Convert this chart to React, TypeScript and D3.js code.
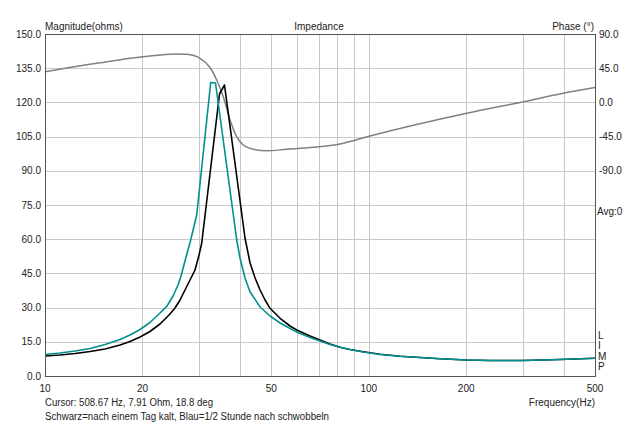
import React from "react";
import * as d3 from "d3";

// ---- data ----
const FREQ_TEAL = [10, 11.13, 12.38, 13.78, 15.33, 17.05, 18.31, 19.66, 21.1, 22.66, 23.82, 24.86, 25.76, 26.31, 27.17, 28.19, 29.42, 32.5, 33.63, 39.11, 40.03, 41.48, 43.0, 46.17, 49.57, 53.23, 59.93, 65.87, 70.72, 75.92, 81.52, 87.52, 96.23, 108.4, 125.0, 144.1, 166.1, 200.8, 237.0, 299.7, 389.9, 500];
const MAG_TEAL = [9.43, 10.09, 10.96, 12.06, 13.82, 16.01, 17.98, 20.39, 23.46, 27.63, 30.7, 35.09, 39.91, 43.86, 51.32, 59.65, 70.61, 128.73, 128.51, 59.65, 51.75, 42.98, 36.84, 30.26, 26.32, 23.25, 19.3, 16.89, 15.35, 13.82, 12.59, 11.62, 10.53, 9.43, 8.64, 8.11, 7.59, 7.02, 6.8, 6.8, 7.24, 7.81];

const FREQ_BLACK = [10, 11.13, 12.38, 13.78, 15.33, 17.05, 18.31, 19.66, 21.1, 22.66, 24.33, 25.21, 26.13, 27.07, 28.05, 29.07, 29.91, 30.49, 34.6, 35.85, 41.48, 43.0, 44.56, 46.17, 47.84, 49.57, 53.23, 57.15, 59.93, 65.87, 70.72, 75.92, 81.52, 87.52, 96.23, 108.4, 125.0, 144.1, 166.1, 200.8, 237.0, 299.7, 389.9, 500];
const MAG_BLACK = [8.77, 9.21, 9.87, 10.75, 11.84, 13.6, 15.13, 17.11, 19.52, 22.81, 27.19, 29.82, 33.33, 37.72, 42.11, 46.49, 53.07, 58.33, 123.68, 127.63, 60.53, 49.56, 42.98, 37.72, 33.33, 29.69, 25.31, 21.93, 20.18, 17.54, 15.79, 14.04, 12.59, 11.62, 10.66, 9.55, 8.64, 8.11, 7.59, 7.02, 6.8, 6.8, 7.24, 7.81];

const FREQ_PHASE = [10, 14.79, 20.12, 25.52, 27.4, 30.12, 32.35, 33.92, 35.54, 37.29, 39.09, 40.99, 44.01, 48.41, 55.81, 67.44, 81.52, 100.9, 200.8, 300.4, 399.3, 500];
const PHASE = [40.4, 52.2, 60.1, 63.7, 63.3, 58.0, 45.9, 29.5, 7.5, -23.2, -45.1, -56.1, -61.7, -63.6, -61.7, -59.1, -54.7, -44.2, -14.3, 0.9, 12.0, 19.5];

const MAG_TICKS = [0, 15, 30, 45, 60, 75, 90, 105, 120, 135, 150];
const PHASE_TICKS = [90, 45, 0, -45, -90];
const FREQ_LABELS = [10, 20, 50, 100, 200, 500];
const FREQ_GRID = [20, 30, 40, 50, 60, 70, 80, 90, 100, 200, 300, 400];
const LIMP = ["L", "I", "M", "P"];

const TITLE = "Impedance";
const LEFT_TITLE = "Magnitude(ohms)";
const RIGHT_TITLE = "Phase (°)";
const X_TITLE = "Frequency(Hz)";
const CURSOR_TEXT = "Cursor: 508.67 Hz, 7.91 Ohm, 18.8 deg";
const NOTE_TEXT = "Schwarz=nach einem Tag kalt, Blau=1/2 Stunde nach schwobbeln";

export default function App() {
  const W = 640, H = 424;
  const L = 45, R = 595, T = 34, B = 376;
  const x = d3.scaleLog().domain([10, 500]).range([L, R]);
  const yM = d3.scaleLinear().domain([0, 150]).range([B, T]);
  const yP = d3.scaleLinear().domain([-360, 90]).range([B, T]);

  const magLine = (fs: number[], vs: number[]) =>
    d3.line<number>().x((_, i) => x(fs[i])).y((v) => yM(v)).curve(d3.curveLinear)(vs) || "";
  const phLine = d3.line<number>().x((_, i) => x(FREQ_PHASE[i])).y((v) => yP(v)).curve(d3.curveMonotoneX)(PHASE) || "";

  const font = "'Liberation Sans', Arial, sans-serif";
  const fs = 10;
  const tc = "#222";
  const px = (v: number) => Math.round(v) + 0.5;

  return (
    <svg width={W} height={H} style={{ position: "absolute", left: 0, top: 0, background: "#fff" }} fontFamily={font} fontSize={fs}>
      <rect x={0} y={0} width={W} height={H} fill="#fff" />
      {/* grid */}
      <g stroke="#c8c8c8" strokeWidth={1}>
        {FREQ_GRID.map((f) => (
          <line key={"v" + f} x1={px(x(f))} x2={px(x(f))} y1={T} y2={B} />
        ))}
        {MAG_TICKS.filter((t) => t > 0 && t < 150).map((t) => (
          <line key={"h" + t} x1={L} x2={R} y1={px(yM(t))} y2={px(yM(t))} />
        ))}
      </g>
      {/* curves */}
      <path d={phLine} fill="none" stroke="#808080" strokeWidth={1.5} />
      <path d={magLine(FREQ_BLACK, MAG_BLACK)} fill="none" stroke="#000" strokeWidth={1.6} strokeLinejoin="round" />
      <path d={magLine(FREQ_TEAL, MAG_TEAL)} fill="none" stroke="#009090" strokeWidth={1.6} strokeLinejoin="round" />
      {/* frame */}
      <rect x={px(L)} y={px(T)} width={R - L} height={B - T} fill="none" stroke="#555" strokeWidth={1} />
      {/* left labels */}
      {MAG_TICKS.map((t) => (
        <text key={"ml" + t} x={41} y={yM(t)} dy="0.35em" textAnchor="end" fill={tc}>
          {t.toFixed(1)}
        </text>
      ))}
      {PHASE_TICKS.map((t) => (
        <text key={"pl" + t} x={599} y={yP(t)} dy="0.35em" textAnchor="start" fill={tc}>
          {t.toFixed(1)}
        </text>
      ))}
      {FREQ_LABELS.map((f) => (
        <text key={"fl" + f} x={x(f)} y={388} dy="0.35em" textAnchor="middle" fill={tc}>
          {f}
        </text>
      ))}
      <text x={45} y={26} dy="0.35em" fill={tc}>{LEFT_TITLE}</text>
      <text x={319} y={26} dy="0.35em" textAnchor="middle" fill={tc}>{TITLE}</text>
      <text x={594} y={26} dy="0.35em" textAnchor="end" fill={tc}>{RIGHT_TITLE}</text>
      <text x={597} y={211} dy="0.35em" fill={tc}>Avg:0</text>
      {LIMP.map((c, i) => (
        <text key={c} x={598} y={335 + i * 10.5} dy="0.35em" fill={tc}>{c}</text>
      ))}
      <text x={595} y={402} dy="0.35em" textAnchor="end" fill={tc}>{X_TITLE}</text>
      <text x={45} y={402} dy="0.35em" fill={tc} textLength={168} lengthAdjust="spacingAndGlyphs">{CURSOR_TEXT}</text>
      <text x={45} y={416} dy="0.35em" fill={tc} textLength={284} lengthAdjust="spacingAndGlyphs">{NOTE_TEXT}</text>
    </svg>
  );
}
